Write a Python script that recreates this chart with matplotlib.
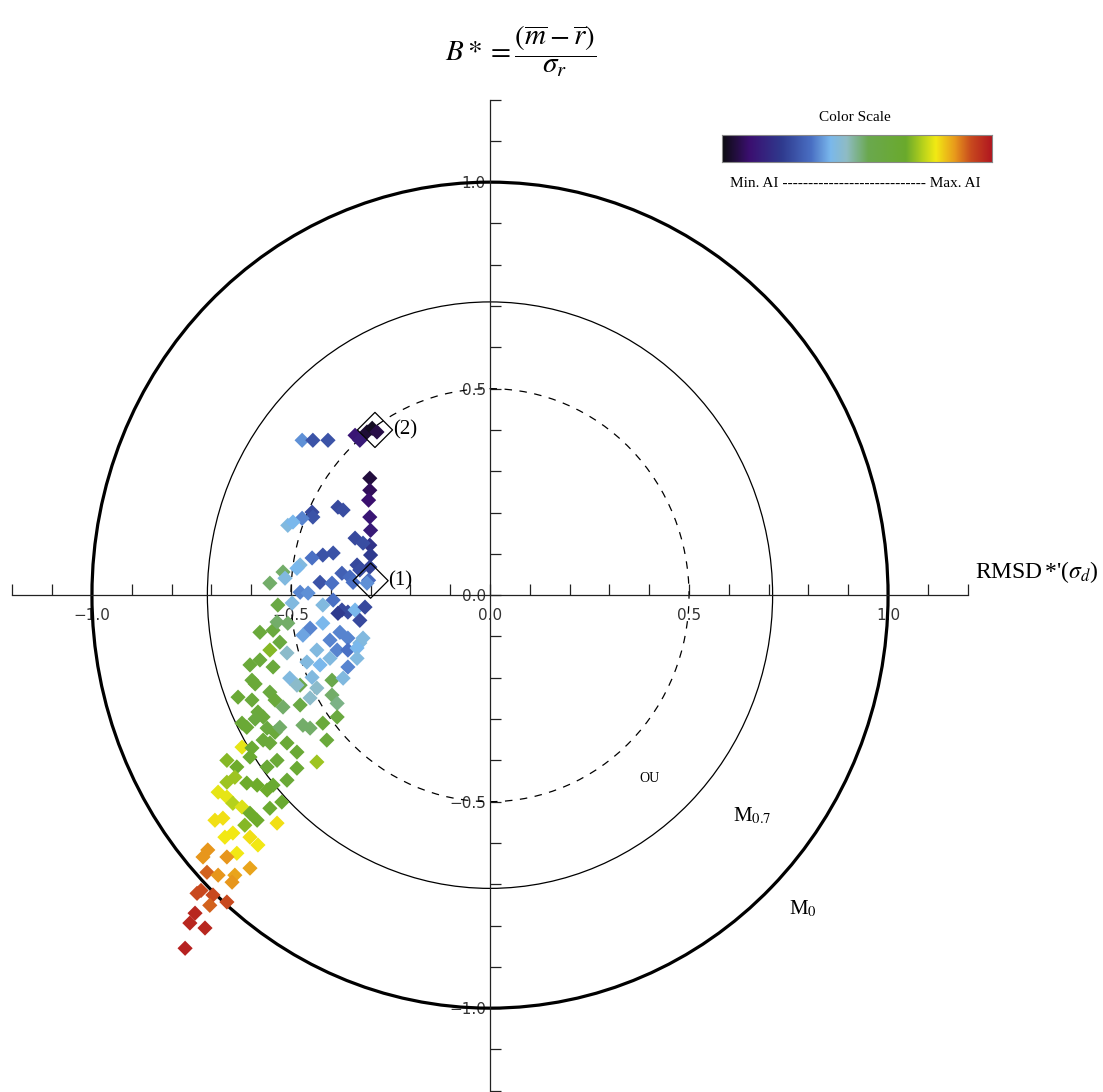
import numpy as np
import matplotlib
matplotlib.use('Agg')
import matplotlib.pyplot as plt
from matplotlib.colors import LinearSegmentedColormap
from matplotlib.patches import Circle
from matplotlib.ticker import FuncFormatter

plt.rcParams['mathtext.fontset'] = 'stix'

# ---- data ----------------------------------------------------------------
# normalised RMSD' (x) and normalised bias B* (y), colour = AI (0 = min, 1 = max)
rmsd = [
    -0.472, -0.445, -0.407, -0.339, -0.327, -0.309, -0.296, -0.284,
    -0.302, -0.302, -0.305, -0.302, -0.300, -0.302, -0.300, -0.302, -0.305,
    -0.382, -0.369, -0.447, -0.445, -0.472, -0.508, -0.495, -0.339, -0.319,
    -0.394, -0.420, -0.447, -0.477, -0.485, -0.334, -0.327, -0.372, -0.352,
    -0.520, -0.515, -0.553, -0.427, -0.397, -0.477, -0.457, -0.344, -0.309,
    -0.394, -0.372, -0.357, -0.339, -0.314, -0.327, -0.452, -0.420, -0.377,
    -0.357, -0.319, -0.327, -0.402, -0.384, -0.402, -0.357, -0.334, -0.334,
    -0.435, -0.427, -0.357, -0.397, -0.369, -0.447, -0.477,
    -0.578, -0.545, -0.533, -0.497, -0.420, -0.382, -0.535, -0.508, -0.553,
    -0.528, -0.510, -0.470, -0.603, -0.578, -0.545, -0.598, -0.590, -0.503,
    -0.485, -0.460, -0.633, -0.598, -0.553, -0.540, -0.520, -0.477, -0.452,
    -0.435, -0.397, -0.384, -0.384, -0.583, -0.570, -0.590, -0.623, -0.611,
    -0.560, -0.540, -0.528, -0.470, -0.452, -0.420, -0.410, -0.623, -0.598,
    -0.570, -0.553, -0.510, -0.485, -0.661, -0.636, -0.603, -0.560, -0.535,
    -0.435, -0.485, -0.661, -0.641, -0.611, -0.585, -0.560, -0.545, -0.510,
    -0.683, -0.661, -0.646, -0.623, -0.603, -0.585, -0.553, -0.523, -0.691,
    -0.671, -0.535, -0.616, -0.666, -0.646, -0.603, -0.583, -0.636, -0.661,
    -0.709, -0.721, -0.711, -0.683, -0.641, -0.648, -0.603, -0.736, -0.726,
    -0.696, -0.661, -0.704, -0.741, -0.754, -0.716, -0.766,
]
bias = [
    0.375, 0.375, 0.375, 0.387, 0.375, 0.395, 0.404, 0.395,
    0.283, 0.254, 0.230, 0.189, 0.157, 0.121, 0.097, 0.068, 0.036,
    0.213, 0.206, 0.201, 0.189, 0.186, 0.169, 0.177, 0.138, 0.126,
    0.102, 0.097, 0.090, 0.073, 0.065, 0.073, 0.061, 0.053, 0.044,
    0.056, 0.041, 0.029, 0.031, 0.029, 0.007, 0.005, 0.031, 0.029,
    -0.012, -0.036, -0.041, -0.036, -0.029, -0.061, -0.080, -0.068, -0.090,
    -0.104, -0.104, -0.116, -0.109, -0.133, -0.153, -0.133, -0.128, -0.153,
    -0.133, -0.169, -0.174, -0.206, -0.201, -0.199, -0.218,
    -0.090, -0.085, -0.024, -0.019, -0.024, -0.044, -0.065, -0.068, -0.133,
    -0.114, -0.140, -0.097, -0.169, -0.157, -0.174, -0.206, -0.215, -0.201,
    -0.218, -0.162, -0.247, -0.254, -0.235, -0.254, -0.271, -0.266, -0.249,
    -0.225, -0.242, -0.262, -0.295, -0.283, -0.295, -0.300, -0.310, -0.320,
    -0.322, -0.332, -0.320, -0.315, -0.322, -0.310, -0.351, -0.368, -0.370,
    -0.351, -0.358, -0.358, -0.380, -0.400, -0.416, -0.392, -0.416, -0.400,
    -0.404, -0.419, -0.453, -0.441, -0.455, -0.460, -0.472, -0.460, -0.448,
    -0.477, -0.489, -0.504, -0.513, -0.528, -0.545, -0.516, -0.501, -0.545,
    -0.540, -0.552, -0.557, -0.586, -0.576, -0.586, -0.605, -0.625, -0.634,
    -0.617, -0.634, -0.671, -0.678, -0.678, -0.695, -0.661, -0.722, -0.715,
    -0.726, -0.743, -0.751, -0.770, -0.794, -0.806, -0.855,
]
ai = [
    0.36, 0.27, 0.27, 0.12, 0.13, 0.04, 0.02, 0.06,
    0.05, 0.08, 0.10, 0.12, 0.13, 0.20, 0.22, 0.24, 0.32,
    0.25, 0.26, 0.25, 0.27, 0.35, 0.42, 0.40, 0.25, 0.26,
    0.27, 0.27, 0.33, 0.42, 0.40, 0.25, 0.26, 0.30, 0.32,
    0.52, 0.42, 0.52, 0.27, 0.33, 0.35, 0.36, 0.33, 0.36,
    0.33, 0.25, 0.25, 0.40, 0.25, 0.25, 0.35, 0.40, 0.35,
    0.35, 0.42, 0.42, 0.35, 0.35, 0.42, 0.33, 0.40, 0.42,
    0.42, 0.40, 0.35, 0.55, 0.42, 0.42, 0.55,
    0.62, 0.60, 0.58, 0.42, 0.42, 0.22, 0.52, 0.52, 0.70,
    0.60, 0.45, 0.38, 0.62, 0.62, 0.62, 0.62, 0.63, 0.42,
    0.45, 0.42, 0.64, 0.62, 0.60, 0.62, 0.52, 0.58, 0.45,
    0.45, 0.52, 0.50, 0.60, 0.62, 0.62, 0.60, 0.64, 0.64,
    0.60, 0.62, 0.52, 0.52, 0.52, 0.62, 0.62, 0.78, 0.65,
    0.62, 0.62, 0.64, 0.64, 0.70, 0.68, 0.66, 0.64, 0.64,
    0.72, 0.65, 0.72, 0.72, 0.68, 0.68, 0.68, 0.66, 0.64,
    0.78, 0.78, 0.74, 0.77, 0.68, 0.68, 0.66, 0.66, 0.80,
    0.80, 0.80, 0.70, 0.79, 0.79, 0.80, 0.79, 0.79, 0.86,
    0.86, 0.86, 0.90, 0.86, 0.85, 0.86, 0.85, 0.92, 0.92,
    0.92, 0.92, 0.90, 0.97, 0.97, 0.97, 0.98,
]

# highlighted runs
mark_x = [-0.300, -0.289]
mark_y = [0.035, 0.400]
mark_lbl = ['(1)', '(2)']

# reference circles: radius, width, style, label
circ_r = [1.0, 0.71, 0.5]
circ_lw = [2.3, 0.9, 0.9]
circ_ls = ['-', '-', (0, (6, 6))]
circ_lbl = [r'M$_0$', r'M$_{0.7}$', 'OU']
circ_lbl_xy = [(0.75, -0.76), (0.61, -0.535), (0.375, -0.445)]
circ_lbl_fs = [15, 15, 10]

# colour scale of AI
cmap_stops = [0.0, 0.10, 0.22, 0.33, 0.40, 0.46, 0.54, 0.68, 0.74, 0.79, 0.86, 0.92, 1.0]
cmap_cols = ['#0c0c10', '#3b0f70', '#2f3a8e', '#4a70c4', '#7ab8ec', '#8fbcc4',
             '#6aa84e', '#6aaa2c', '#b4d01c', '#f2ea14', '#e89a1c', '#c84a1e', '#b01420']
ai_cmap = LinearSegmentedColormap.from_list('ai', list(zip(cmap_stops, cmap_cols)))

# ---- figure ---------------------------------------------------------------
fig = plt.figure(figsize=(11.03, 10.92), dpi=100)
ax = fig.add_axes([0, 0, 1, 1])
ax.set_xlim(-1.231, 1.540)
ax.set_ylim(-1.203, 1.441)
ax.patch.set_alpha(0)

for s in ['top', 'right']:
    ax.spines[s].set_visible(False)
for s in ['bottom', 'left']:
    ax.spines[s].set_position(('data', 0))
    ax.spines[s].set_bounds(-1.2, 1.2)
    ax.spines[s].set_linewidth(0.9)
    ax.spines[s].set_color('#222222')

fmt = FuncFormatter(lambda v, pos: f'{v:.1f}'.replace('-', '\u2212'))
ax.set_xticks([-1.0, -0.5, 0.0, 0.5, 1.0])
ax.set_yticks([-1.0, -0.5, 0.0, 0.5, 1.0])
ax.set_xticks(np.round(np.arange(-1.2, 1.21, 0.1), 1), minor=True)
ax.set_yticks(np.round(np.arange(-1.2, 1.21, 0.1), 1), minor=True)
ax.xaxis.set_major_formatter(fmt)
ax.yaxis.set_major_formatter(fmt)
ax.tick_params(which='both', direction='in', length=8, width=0.9, color='#222222',
               labelsize=11, labelcolor='#333333')
ax.tick_params(axis='x', pad=9)
ax.tick_params(axis='y', pad=3)

for r, lw, ls in zip(circ_r, circ_lw, circ_ls):
    ax.add_patch(Circle((0, 0), r, fill=False, lw=lw, ls=ls, color='black', zorder=2))
for lbl, (lx, ly), fs in zip(circ_lbl, circ_lbl_xy, circ_lbl_fs):
    ax.text(lx, ly, lbl, fontsize=fs, family='Liberation Serif', ha='left', va='center')

ax.scatter(rmsd, bias, c=ai, cmap=ai_cmap, vmin=0, vmax=1, marker='D', s=60,
           edgecolors='none', zorder=3)

ax.scatter(mark_x, mark_y, marker='D', s=320, facecolors='none', edgecolors='black',
           linewidths=0.9, zorder=4)
for mx, my, lbl in zip(mark_x, mark_y, mark_lbl):
    ax.text(mx + 0.045, my, lbl, fontsize=15, family='Liberation Serif',
            ha='left', va='center')

# axis titles
fig.text(0.472, 0.953, r'$B*=\dfrac{(\overline{m}-\overline{r})}{\sigma_{r}}$',
         fontsize=21, ha='center', va='center')
fig.text(0.884, 0.476, r"RMSD$\,$*'($\sigma_d$)", fontsize=17,
         family='Liberation Serif', ha='left', va='center')

# colour scale
cax = fig.add_axes([0.6546, 0.8516, 0.2448, 0.0247])
cax.imshow(np.linspace(0, 1, 256)[None, :], aspect='auto', cmap=ai_cmap)
cax.set_xticks([])
cax.set_yticks([])
for s in cax.spines.values():
    s.set_color('#888888')
    s.set_linewidth(0.8)
fig.text(0.775, 0.892, 'Color Scale', fontsize=11, family='Liberation Serif',
         ha='center', va='center')
fig.text(0.775, 0.832, 'Min. AI ' + '-' * 28 + ' Max. AI', fontsize=11,
         family='Liberation Serif', ha='center', va='center')

fig.savefig('out.png', dpi=100)
